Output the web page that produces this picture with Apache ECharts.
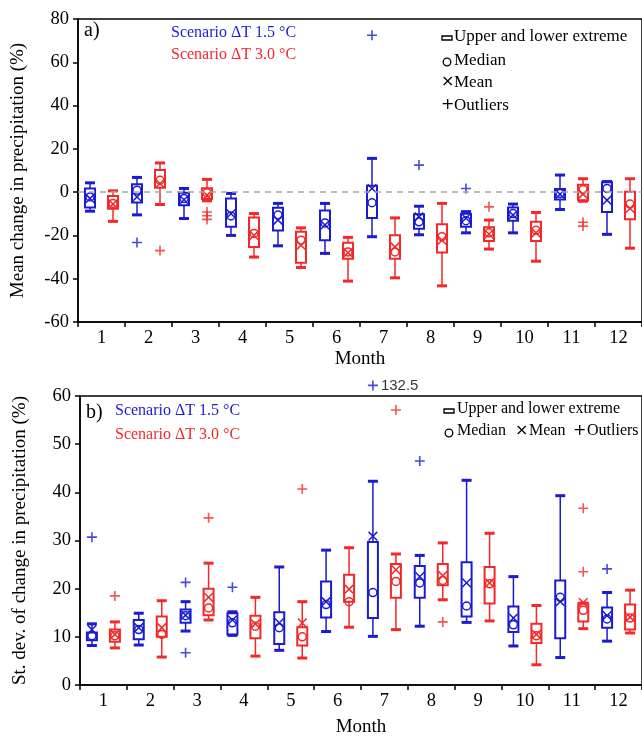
<!DOCTYPE html>
<html>
<head>
<meta charset="utf-8">
<script src="https://cdn.jsdelivr.net/npm/echarts@6/dist/echarts.min.js"></script>
<style>html,body{margin:0;padding:0;background:#fff;}#c{width:642px;height:738px;}</style>
</head>
<body>
<div id="c"></div>
<script>
// ---------- DATA ----------
const months = ['1','2','3','4','5','6','7','8','9','10','11','12'];

// Panel a: mean change in precipitation (%)
const a15Min    = [-8.8, -10.5, -12.2, -20.0, -24.8, -28.3, -20.6, -19.7, -18.8, -18.8, -8.0, -19.5];
const a15Q1     = [-7.1,  -4.8,  -6.0, -16.0, -17.7, -22.2, -11.9, -16.9, -16.0, -13.2, -3.4,  -9.2];
const a15Median = [-2.2,   0.9,  -2.9, -11.0, -10.6, -14.2,  -4.9, -13.7, -13.2,  -9.9, -0.6,   1.7];
const a15Q3     = [ 1.7,   3.7,  -0.3,  -2.9,  -7.2,  -8.5,   2.9, -10.2, -10.0,  -7.1,  1.5,   4.6];
const a15Max    = [ 4.3,   6.8,   1.7,  -0.6,  -5.2,  -5.2,  15.6,  -6.5,  -9.0,  -5.5,  7.9,   4.9];
const a15Mean   = [-2.9,  -2.2,  -3.5, -10.0, -12.9, -15.2,   1.7, -11.4, -12.0, -10.6, -1.0,  -3.7];
const a15Outliers = [[2, -23.3], [7, 72.5], [8, 12.5], [9, 1.7]];

const a30Min    = [-13.5, -5.7, -4.0, -30.0, -34.8, -41.1, -39.6, -43.3, -26.3, -31.9, -4.2, -25.9];
const a30Q1     = [ -7.7,  2.0, -3.2, -25.4, -32.6, -30.8, -30.8, -27.9, -22.6, -22.6, -3.8, -12.5];
const a30Median = [ -5.2,  5.5, -0.3, -19.1, -22.2, -27.6, -27.6, -20.6, -18.8, -17.6,  1.2,  -5.5];
const a30Q3     = [ -1.8, 10.2,  1.8, -11.7, -18.3, -23.4, -19.9, -14.8, -16.2, -13.7,  3.4,   0.2];
const a30Max    = [  0.6, 13.5,  5.9,  -9.9, -16.5, -20.9, -11.9,  -5.2, -12.9,  -9.4,  6.2,   6.2];
const a30Mean   = [ -5.5,  4.0, -1.4, -20.0, -24.5, -28.0, -25.3, -22.2, -19.4, -18.8, -0.9,  -7.5];
const a30Outliers = [[2, -27.0], [3, -9.2], [3, -10.9], [3, -12.6], [9, -6.8], [11, -13.9], [11, -15.7]];

// Panel b: st. dev. of change in precipitation (%)
const b15Min    = [ 8.2,  8.3, 11.2, 10.3,  7.2, 11.1, 10.1, 12.2, 13.0,  8.1,  5.7,  9.1];
const b15Q1     = [ 9.3,  9.5, 12.9, 10.5,  8.5, 14.0, 13.9, 18.1, 14.2, 11.0,  9.7, 11.9];
const b15Median = [10.2, 11.5, 14.4, 12.9, 11.9, 16.7, 19.2, 21.2, 16.4, 12.5, 18.2, 13.7];
const b15Q3     = [10.9, 13.5, 15.7, 14.9, 15.1, 21.5, 29.7, 24.7, 25.5, 16.3, 21.7, 16.1];
const b15Max    = [12.7, 14.9, 17.3, 15.2, 24.5, 28.0, 42.3, 26.9, 42.5, 22.5, 39.3, 19.2];
const b15Mean   = [11.5, 11.9, 14.5, 13.5, 12.9, 17.3, 30.9, 22.5, 21.2, 13.9, 17.3, 14.4];
const b15Outliers = [[1, 30.7], [3, 21.3], [3, 6.7], [4, 20.3], [7, 132.5], [8, 46.5], [12, 24.1]];

const b30Min    = [ 7.7,  5.8, 13.5,  6.0,  5.6, 12.0, 11.5, 17.7, 13.3,  4.2, 11.7, 10.8];
const b30Q1     = [ 9.0, 10.0, 14.5,  9.7,  8.2, 17.3, 18.1, 20.7, 16.9,  8.7, 13.2, 11.5];
const b30Median = [10.2, 10.5, 16.0, 12.2, 10.0, 17.3, 21.5, 21.7, 21.0, 10.2, 15.5, 13.9];
const b30Q3     = [11.5, 14.2, 20.0, 14.4, 12.0, 22.9, 25.1, 25.1, 24.5, 12.7, 16.9, 16.7];
const b30Max    = [13.1, 17.5, 25.3, 18.2, 17.3, 28.5, 27.2, 29.5, 31.5, 16.5, 17.0, 19.7];
const b30Mean   = [10.5, 11.9, 18.2, 12.7, 12.9, 19.9, 23.9, 22.7, 21.2, 10.5, 17.1, 14.1];
const b30Outliers = [[1, 18.5], [3, 34.7], [5, 40.7], [7, 57.1], [8, 13.1], [11, 36.7], [11, 23.5]];

// ---------- STYLE ----------
const BLUE = '#1b1bd2';
const RED = '#f42828';
const SERIF = 'Liberation Serif';
const OFF = 11.5;
const B_MAX = 60;

function boxData(mn, q1, md, q3, mx, mean) {
  return months.map((m, i) => [i, mn[i], q1[i], md[i], q3[i], mx[i], mean[i]]);
}

function renderBox(offset, color) {
  return function (params, api) {
    const i = api.value(0);
    const cx = api.coord([i, 0])[0] + offset;
    const y = k => api.coord([i, api.value(k)])[1];
    const yMin = y(1), yQ1 = y(2), yMed = y(3), yQ3 = y(4), yMax = y(5), yMean = y(6);
    const hw = 5, xs = 4.3;
    const st = { stroke: color, lineWidth: 1.5, fill: null };
    return {
      type: 'group',
      children: [
        { type: 'line', shape: { x1: cx, y1: yQ3, x2: cx, y2: yMax }, style: st },
        { type: 'line', shape: { x1: cx, y1: yQ1, x2: cx, y2: yMin }, style: st },
        { type: 'rect', shape: { x: cx - hw, y: yQ3, width: 2 * hw, height: yQ1 - yQ3 }, style: { stroke: color, lineWidth: 2, fill: null } },
        { type: 'rect', shape: { x: cx - hw, y: yMax - 1.5, width: 2 * hw, height: 3 }, style: { fill: color } },
        { type: 'rect', shape: { x: cx - hw, y: yMin - 1.5, width: 2 * hw, height: 3 }, style: { fill: color } },
        { type: 'line', shape: { x1: cx - xs, y1: yMean - xs, x2: cx + xs, y2: yMean + xs }, style: st },
        { type: 'line', shape: { x1: cx - xs, y1: yMean + xs, x2: cx + xs, y2: yMean - xs }, style: st },
        { type: 'circle', shape: { cx: cx, cy: yMed, r: 4 }, style: st }
      ]
    };
  };
}

const PLUS = 'path://M0,4.2H10V5.8H0Z M4.2,0H5.8V10H4.2Z';

function outlierData(list, ymax) {
  return list.map(([m, v]) => {
    if (ymax !== undefined && v > ymax) {
      return { value: [m - 1, ymax + 2.2], label: { show: true, formatter: String(v), position: 'right', distance: 3, color: '#000', fontFamily: 'Liberation Sans', fontSize: 15 } };
    }
    return [m - 1, v];
  });
}

const axisTextStyle = { color: '#000', fontFamily: SERIF, fontSize: 18.5 };
const nameStyle = { color: '#000', fontFamily: SERIF, fontSize: 19 };
const axisLine = { show: true, onZero: false, lineStyle: { color: '#000', width: 1.5 } };
const axisTick = { show: true, inside: false, length: 5, lineStyle: { color: '#000', width: 1.5 } };

function xAx(gi, gap) {
  return {
    type: 'category', gridIndex: gi, data: months, boundaryGap: true,
    axisLine: axisLine, axisTick: axisTick,
    axisLabel: Object.assign({ margin: 7 }, axisTextStyle),
    name: 'Month', nameLocation: 'middle', nameGap: gap,
    nameTextStyle: nameStyle,
    splitLine: { show: false }
  };
}
function yAx(gi, min, max, interval, name) {
  return {
    type: 'value', gridIndex: gi, min: min, max: max, interval: interval,
    axisLine: axisLine, axisTick: axisTick,
    axisLabel: Object.assign({ margin: 9 }, axisTextStyle),
    splitLine: { show: false },
    name: name, nameLocation: 'middle', nameGap: 50, nameRotate: 90,
    nameTextStyle: nameStyle
  };
}

function boxSeries(xi, data, offset, color) {
  return {
    type: 'custom', xAxisIndex: xi, yAxisIndex: xi, z: 3,
    renderItem: renderBox(offset, color),
    encode: { x: 0, y: [1, 2, 3, 4, 5, 6] },
    data: data, clip: false
  };
}
function outSeries(xi, data, offset, color, extra) {
  return Object.assign({
    type: 'scatter', xAxisIndex: xi, yAxisIndex: xi, z: 2,
    symbol: PLUS, symbolSize: 10, symbolOffset: [offset, 0],
    itemStyle: { color: color }, data: data, clip: false, silent: true
  }, extra || {});
}

function txt(left, top, text, color, size, family) {
  return { type: 'text', left: left, top: top, style: { text: text, fill: color, font: size + 'px "' + (family || SERIF) + '"', textVerticalAlign: 'middle' } };
}

const chart = echarts.init(document.getElementById('c'), null, { renderer: 'canvas' });
chart.setOption({
  animation: false,
  backgroundColor: '#fff',
  grid: [
    { left: 78, top: 19, width: 569, height: 303, show: true, borderColor: '#000', borderWidth: 1.5, backgroundColor: 'transparent' },
    { left: 80, top: 396, width: 572, height: 298, show: true, borderColor: '#000', borderWidth: 1.5, backgroundColor: 'transparent' }
  ],
  xAxis: [xAx(0, 28), xAx(1, 33)],
  yAxis: [
    yAx(0, -60, 80, 20, 'Mean change in precipitation (%)'),
    yAx(1, 0, 60, 10, 'St. dev. of change in precipitation (%)')
  ],
  series: [
    outSeries(0, outlierData(a15Outliers), -OFF, BLUE, {
      markLine: { silent: true, symbol: 'none', label: { show: false },
        lineStyle: { color: '#a8a8a8', type: [6, 5], width: 1.5 }, data: [{ yAxis: 0 }] }
    }),
    outSeries(0, outlierData(a30Outliers), OFF, RED),
    boxSeries(0, boxData(a15Min, a15Q1, a15Median, a15Q3, a15Max, a15Mean), -OFF, BLUE),
    boxSeries(0, boxData(a30Min, a30Q1, a30Median, a30Q3, a30Max, a30Mean), OFF, RED),
    outSeries(1, outlierData(b15Outliers, B_MAX), -OFF, BLUE),
    outSeries(1, outlierData(b30Outliers, B_MAX), OFF, RED),
    boxSeries(1, boxData(b15Min, b15Q1, b15Median, b15Q3, b15Max, b15Mean), -OFF, BLUE),
    boxSeries(1, boxData(b30Min, b30Q1, b30Median, b30Q3, b30Max, b30Mean), OFF, RED)
  ],
  graphic: [
    // panel a
    txt(84, 21, 'a)', '#000', 20),
    txt(171, 25, 'Scenario ΔT 1.5 °C', BLUE, 16),
    txt(171, 47, 'Scenario ΔT 3.0 °C', RED, 16),
    { type: 'rect', shape: { x: 442, y: 36, width: 10, height: 4 }, style: { fill: '#fff', stroke: '#000', lineWidth: 1.3 } },
    txt(454, 28, 'Upper and lower extreme', '#000', 17),
    { type: 'circle', shape: { cx: 447, cy: 62, r: 3.8 }, style: { fill: null, stroke: '#000', lineWidth: 1.3 } },
    txt(454, 52, 'Median', '#000', 17),
    txt(441, 74, '×', '#000', 16, 'DejaVu Sans'),
    txt(454, 74, 'Mean', '#000', 17),
    txt(441, 97, '+', '#000', 16, 'DejaVu Sans'),
    txt(454, 97, 'Outliers', '#000', 17),
    // panel b
    txt(86, 403, 'b)', '#000', 20),
    txt(115, 403, 'Scenario ΔT 1.5 °C', BLUE, 16),
    txt(115, 427, 'Scenario ΔT 3.0 °C', RED, 16),
    { type: 'rect', shape: { x: 444, y: 409, width: 10, height: 4 }, style: { fill: '#fff', stroke: '#000', lineWidth: 1.3 } },
    txt(457, 401, 'Upper and lower extreme', '#000', 16),
    { type: 'circle', shape: { cx: 449, cy: 433, r: 3.8 }, style: { fill: null, stroke: '#000', lineWidth: 1.3 } },
    txt(457, 423, 'Median', '#000', 16),
    txt(515, 423, '×', '#000', 16, 'DejaVu Sans'),
    txt(529, 423, 'Mean', '#000', 16),
    txt(573, 423, '+', '#000', 16, 'DejaVu Sans'),
    txt(587, 423, 'Outliers', '#000', 16)
  ]
});
</script>
</body>
</html>
